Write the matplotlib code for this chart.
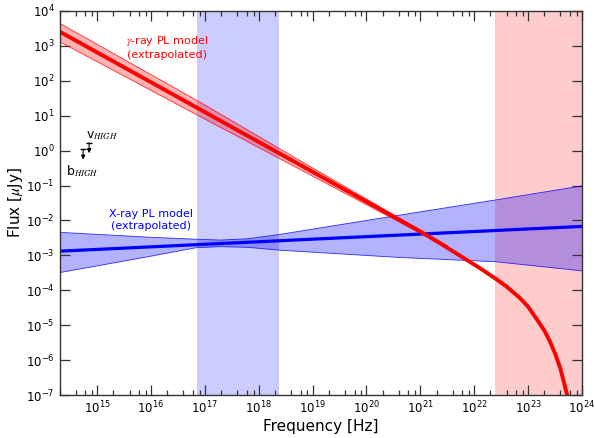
import matplotlib
matplotlib.use("Agg")
from matplotlib import pyplot as plt
from matplotlib.ticker import LogLocator, NullFormatter

# gamma-ray PL model (with high-energy turnover)
gam_nu = [2.0e14, 4.17e20, 1.15e21, 3.16e21, 6.31e21, 1.26e22, 2.51e22, 3.98e22, 7.08e22,
          1.0e23, 1.58e23, 2.0e23, 2.51e23, 3.16e23, 3.98e23, 5.01e23, 6.0e23]
gam_flux = [2570, 1.02e-2, 4.27e-3, 1.66e-3, 8.5e-4, 4.37e-4, 2.14e-4, 1.29e-4, 6.0e-5,
            3.4e-5, 1.23e-5, 7.1e-6, 3.6e-6, 1.58e-6, 5.8e-7, 1.45e-7, 5e-8]
gam_band_nu = [2.0e14, 8.1e16, 1e19, 4e20, 3.2e21]
gam_band_hi = [4470, 24.5, 0.32, 0.012, 1.9e-3]
gam_band_lo = [1320, 9.5, 0.186, 9.1e-3, 1.66e-3]

# X-ray PL model
xr_nu = [2.0e14, 1e24]
xr_flux = [1.32e-3, 6.76e-3]
xr_band_nu = [2.0e14, 1e16, 6.9e16, 2e17, 6.3e17, 2.45e18, 4.2e20, 2.45e22, 1e24]
xr_band_hi = [4.57e-3, 3.3e-3, 2.9e-3, 2.75e-3, 3.0e-3, 3.98e-3, 1.43e-2, 3.85e-2, 9.8e-2]
xr_band_lo = [3.2e-4, 9.5e-4, 1.66e-3, 1.78e-3, 1.7e-3, 1.41e-3, 8.7e-4, 6.6e-4, 3.6e-4]

# instrument ranges
xrt_range = [7.25e16, 2.42e18]
lat_range = [2.42e22, 1e25]

# UVOT upper limits
ul_nu = [7.1e14, 5.5e14]
ul_flux = [1.68, 1.1]
ul_text = ["v$_{HIGH}$", "b$_{HIGH}$"]
ul_text_pos = [(6.2e14, 2.3), (2.6e14, 0.2)]

x_ticks = [1e15, 1e16, 1e17, 1e18, 1e19, 1e20, 1e21, 1e22, 1e23, 1e24]
y_ticks = [1e-7, 1e-6, 1e-5, 1e-4, 1e-3, 1e-2, 1e-1, 1e0, 1e1, 1e2, 1e3, 1e4]

plt.rcParams["mathtext.fontset"] = "stix"
plt.rcParams["font.family"] = "DejaVu Sans"

fig = plt.figure(figsize=(5.95, 4.38), dpi=100)
ax = fig.add_axes([0.1, 0.098, 0.878, 0.877])

ax.axvspan(xrt_range[0], xrt_range[1], color="blue", alpha=0.2, lw=0)
ax.axvspan(lat_range[0], lat_range[1], color="red", alpha=0.2, lw=0)

ax.fill_between(xr_band_nu, xr_band_lo, xr_band_hi, facecolor="blue", alpha=0.3, lw=0)
ax.plot(xr_band_nu, xr_band_hi, color="blue", lw=0.6, alpha=0.8)
ax.plot(xr_band_nu, xr_band_lo, color="blue", lw=0.6, alpha=0.8)
ax.plot(xr_nu, xr_flux, color="blue", lw=2.3)

ax.fill_between(gam_band_nu, gam_band_lo, gam_band_hi, facecolor="red", alpha=0.3, lw=0)
ax.plot(gam_band_nu, gam_band_hi, color="red", lw=0.6, alpha=0.8)
ax.plot(gam_band_nu, gam_band_lo, color="red", lw=0.6, alpha=0.8)
ax.plot(gam_nu, gam_flux, color="red", lw=2.8, solid_joinstyle="round")

for nu, f, t, pos in zip(ul_nu, ul_flux, ul_text, ul_text_pos):
    ax.plot([nu], [f], marker="_", ms=5, mew=1, color="k")
    ax.annotate("", xy=(nu, f * 10 ** -0.3), xytext=(nu, f),
                arrowprops=dict(arrowstyle="-|>", lw=0.8, color="k",
                                mutation_scale=6, shrinkA=0, shrinkB=0))
    ax.text(pos[0], pos[1], t, fontsize=9, ha="left", va="baseline")

ax.text(2.0e16, 930, "$\\gamma$-ray PL model\n(extrapolated)", color="red",
        fontsize=8, ha="center", va="center", multialignment="center")
ax.text(1.0e16, 1.02e-2, "X-ray PL model\n(extrapolated)", color="blue",
        fontsize=8, ha="center", va="center", multialignment="center")

ax.set_xscale("log")
ax.set_yscale("log")
ax.set_xlim(2e14, 1e24)
ax.set_ylim(1e-7, 1e4)

ax.set_xticks(x_ticks)
ax.set_yticks(y_ticks)
ax.xaxis.set_minor_locator(LogLocator(base=10, subs=(2, 4, 6, 8), numticks=20))
ax.xaxis.set_minor_formatter(NullFormatter())
ax.yaxis.set_minor_locator(LogLocator(base=10, subs=(), numticks=20))
ax.yaxis.set_minor_formatter(NullFormatter())

ax.tick_params(which="both", direction="in", top=True, right=True, colors="#333333",
               labelcolor="black", labelsize=8.5)
ax.tick_params(which="major", length=7, width=0.9)
ax.tick_params(which="minor", length=3.5, width=0.9)
for s in ax.spines.values():
    s.set_color("#333333")
    s.set_linewidth(1.0)

ax.set_xlabel("Frequency [Hz]", fontsize=11, labelpad=2)
ax.set_ylabel("Flux [$\\mu$Jy]", fontsize=11, labelpad=1)

fig.savefig("out.png", dpi=100)
